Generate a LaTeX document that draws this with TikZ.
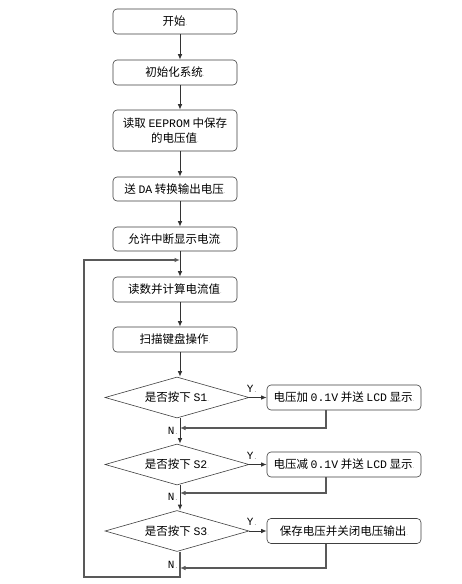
\documentclass[tikz,border=0pt]{standalone}
\usepackage{fontspec}
\setmainfont{Noto Sans CJK SC}
\newfontfamily\lat[Scale=1.0]{Liberation Mono}
\usetikzlibrary{shapes.geometric,arrows.meta}
\newcommand{\pmk}{{\fontsize{6}{6}\selectfont\color{gray}.}}
\begin{document}
\begin{tikzpicture}[x=1pt,y=-1pt,
  every node/.style={font=\fontsize{11.5}{14.5}\selectfont, inner sep=0pt},
  procbox/.style={draw=black!75, line width=0.6pt, rounded corners=4pt, minimum width=124pt, align=center},
  rbox/.style={draw=black!75, line width=0.6pt, rounded corners=4pt, minimum width=154pt, minimum height=25pt},
  decis/.style={draw=black!75, line width=0.6pt, shape=diamond, aspect=3.5, minimum width=144pt, minimum height=41pt, inner sep=0pt},
  flow/.style={draw=black!80, line width=0.9pt, -{Latex[length=5.5pt,width=4.5pt]}},
  back/.style={draw=black!65, line width=1.2pt, -{Latex[length=5.5pt,width=4.5pt]}},
  lbl/.style={font=\lat\fontsize{11}{12}\selectfont}
]
\useasboundingbox (0,0) rectangle (462,584);
\fill[white] (0,0) rectangle (462,584);

\node[procbox, minimum height=25pt] (b1) at (175,21.5) {开始\pmk};
\node[procbox, minimum height=25pt] (b2) at (175,72.5) {初始化系统\pmk};
\node[procbox, minimum height=41pt] (b3) at (175,130.5) {读取 {\lat EEPROM} 中保存\\的电压值\pmk};
\node[procbox, minimum height=24pt] (b4) at (175,189) {送 {\lat DA} 转换输出电压\pmk};
\node[procbox, minimum height=24pt] (b5) at (175,239) {允许中断显示电流\pmk};
\node[procbox, minimum height=25pt] (b6) at (175,289.5) {读数并计算电流值\pmk};
\node[procbox, minimum height=25pt] (b7) at (175,339.5) {扫描键盘操作\pmk};

\node[decis] (d1) at (177,397.5) {是否按下 {\lat S1}\pmk};
\node[decis] (d2) at (177,464.5) {是否按下 {\lat S2}\pmk};
\node[decis] (d3) at (177,531) {是否按下 {\lat S3}\pmk};

\node[rbox] (r1) at (344,397.5) {电压加 {\lat 0.1V} 并送 {\lat LCD} 显示\pmk};
\node[rbox] (r2) at (344,464.5) {电压减 {\lat 0.1V} 并送 {\lat LCD} 显示\pmk};
\node[rbox] (r3) at (344,531) {保存电压并关闭电压输出\pmk};

\coordinate (j1) at (180,428);
\coordinate (j2) at (180,493);
\coordinate (j3) at (180,568);
\coordinate (jl) at (180,260);
\coordinate (lb) at (84,577);

\draw[flow] ([xshift=5pt]b1.south) -- ([xshift=5pt]b2.north);
\draw[flow] ([xshift=5pt]b2.south) -- ([xshift=5pt]b3.north);
\draw[flow] ([xshift=5pt]b3.south) -- ([xshift=5pt]b4.north);
\draw[flow] ([xshift=5pt]b4.south) -- ([xshift=5pt]b5.north);
\draw[flow] ([xshift=5pt]b5.south) -- ([xshift=5pt]b6.north);
\draw[flow] ([xshift=5pt]b6.south) -- ([xshift=5pt]b7.north);
\draw[flow] ([xshift=5pt]b7.south) -- ([xshift=3pt]d1.north);
\draw[flow] ([xshift=3pt]d1.south) -- ([xshift=3pt]d2.north);
\draw[flow] ([xshift=3pt]d2.south) -- ([xshift=3pt]d3.north);

\draw[flow] (d1.east) -- (r1.west);
\draw[flow] (d2.east) -- (r2.west);
\draw[flow] (d3.east) -- (r3.west);

\draw[back] ([xshift=-18pt]r1.south) |- (j1);
\draw[back] ([xshift=-18pt]r2.south) |- (j2);
\draw[back] ([xshift=-18pt]r3.south) |- (j3);

\draw[back] ([xshift=3pt]d3.south) |- (lb) |- (jl);

\node[lbl] (y1) at (252,388.5) {Y\pmk};
\node[lbl] (y2) at (252,455.5) {Y\pmk};
\node[lbl] (y3) at (252,522) {Y\pmk};
\node[lbl] (n1) at (173,431) {N\pmk};
\node[lbl] (n2) at (173,497) {N\pmk};
\node[lbl] (n3) at (173,565) {N\pmk};
\end{tikzpicture}
\end{document}
